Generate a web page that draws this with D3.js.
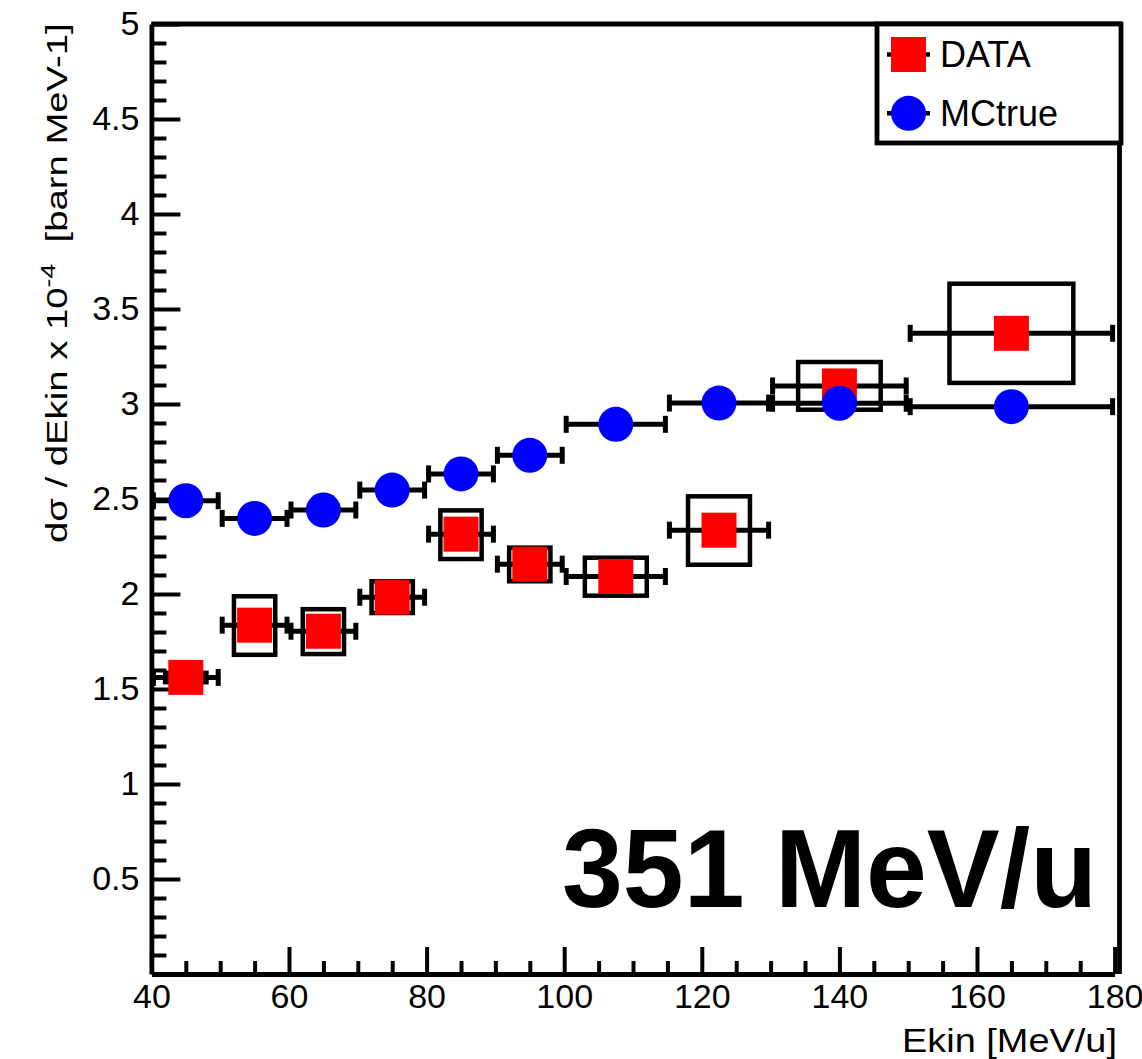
<!DOCTYPE html>
<html>
<head>
<meta charset="utf-8">
<script src="https://cdn.jsdelivr.net/npm/d3@7"></script>
<style>
  html, body { margin: 0; padding: 0; background: #fff; }
  svg { display: block; font-family: "Liberation Sans", Arial, Helvetica, sans-serif; }
</style>
</head>
<body>
<svg id="chart" width="1142" height="1059"></svg>
<script>
// bins in Ekin [MeV/u]
const binLow  = [40, 50, 60, 70, 80, 90, 100, 115, 130, 150];
const binHigh = [50, 60, 70, 80, 90, 100, 115, 130, 150, 180];
const ekin    = [45, 55, 65, 75, 85, 95, 107.5, 122.5, 140, 165];

// DATA points and systematic band
const dataVal = [1.561, 1.836, 1.804, 1.983, 2.315, 2.157, 2.092, 2.336, 3.095, 3.372];
const sysLow  = [1.536, 1.680, 1.684, 1.900, 2.184, 2.067, 1.991, 2.154, 2.970, 3.111];
const sysHigh = [1.585, 1.988, 1.920, 2.067, 2.440, 2.244, 2.191, 2.514, 3.221, 3.633];

// MC truth
const mcVal = [2.491, 2.398, 2.442, 2.547, 2.632, 2.730, 2.893, 3.005, 3.004, 2.986];

// axis ticks
const xMajor = [40, 60, 80, 100, 120, 140, 160, 180];
const xMinor = d3.range(45, 180, 5).filter(v => v % 20 !== 0);
const yMajor = [0.5, 1, 1.5, 2, 2.5, 3, 3.5, 4, 4.5, 5];
const yMinor = d3.range(1, 50).map(v => v / 10).filter(v => Math.round(v * 10) % 5 !== 0);

const svg = d3.select("#chart");
const x = d3.scaleLinear().domain([40, 180]).range([151.4, 1114.6]);
const y = d3.scaleLinear().domain([0, 5]).range([974, 24]);

const LW = 4.8;

// frame top + right
svg.append("path")
  .attr("d", `M${x(40)},${y(5)}H1119.5V${y(0)}`)
  .attr("fill", "none").attr("stroke", "#000").attr("stroke-width", LW);

// minor ticks
svg.append("g")
  .attr("transform", `translate(${x(40)},0)`)
  .call(d3.axisLeft(y).tickValues(yMinor).tickSize(-15).tickFormat(""))
  .call(g => g.select(".domain").remove())
  .call(g => g.selectAll("line").attr("stroke-width", 4));

svg.append("g")
  .attr("transform", `translate(0,${y(0)})`)
  .call(d3.axisBottom(x).tickValues(xMinor).tickSize(-13).tickFormat(""))
  .call(g => g.select(".domain").remove())
  .call(g => g.selectAll("line").attr("stroke-width", 4));

// major ticks + labels
svg.append("g")
  .attr("transform", `translate(${x(40)},0)`)
  .call(d3.axisLeft(y).tickValues(yMajor).tickSizeInner(-29).tickSizeOuter(0).tickPadding(12)
    .tickFormat(d3.format("~g")))
  .call(g => g.select(".domain").attr("stroke-width", LW))
  .call(g => g.selectAll("line").attr("stroke-width", 4))
  .call(g => g.selectAll("text").attr("font-size", 34).attr("fill", "#000").attr("font-family", null));

svg.append("g")
  .attr("transform", `translate(0,${y(0)})`)
  .call(d3.axisBottom(x).tickValues(xMajor).tickSizeInner(-27).tickSizeOuter(0).tickPadding(10)
    .tickFormat(d3.format("d")))
  .call(g => g.select(".domain").attr("stroke-width", LW))
  .call(g => g.selectAll("line").attr("stroke-width", 4))
  .call(g => g.selectAll("text").attr("font-size", 34).attr("fill", "#000").attr("font-family", null));

// axis titles
svg.append("text")
  .attr("x", 1117).attr("y", 1052)
  .attr("text-anchor", "end")
  .attr("font-size", 34)
  .attr("textLength", 215).attr("lengthAdjust", "spacingAndGlyphs")
  .text("Ekin [MeV/u]");

const yTitle = svg.append("g").attr("transform", "translate(67,543) rotate(-90)");
const yText = yTitle.append("text").attr("font-size", 30);
yText.append("tspan").text("dσ / dEkin x 10");
yText.append("tspan").attr("font-size", 21).attr("dy", -12).text("-4");
yText.append("tspan").attr("dy", 12).text("  [barn MeV-1]");
yText.attr("xml:space", "preserve").style("white-space", "pre");
const natural = yText.node().getComputedTextLength();
yText.attr("transform", `scale(${520 / natural},1)`);

// big label
svg.append("text")
  .attr("x", 562).attr("y", 907)
  .attr("font-size", 112).attr("font-weight", "bold")
  .attr("textLength", 535).attr("lengthAdjust", "spacingAndGlyphs")
  .text("351 MeV/u");

const idx = d3.range(ekin.length);
const capH = 17;

function errorBars(vals) {
  const g = svg.append("g").attr("stroke", "#000").attr("stroke-width", 5);
  g.selectAll("line.h").data(idx).join("line").attr("class", "h")
    .attr("x1", i => x(binLow[i])).attr("x2", i => x(binHigh[i]))
    .attr("y1", i => y(vals[i])).attr("y2", i => y(vals[i]));
  g.selectAll("line.cl").data(idx).join("line").attr("class", "cl")
    .attr("x1", i => x(binLow[i]) + 2).attr("x2", i => x(binLow[i]) + 2)
    .attr("y1", i => y(vals[i]) - capH / 2).attr("y2", i => y(vals[i]) + capH / 2);
  g.selectAll("line.cr").data(idx).join("line").attr("class", "cr")
    .attr("x1", i => x(binHigh[i]) - 2).attr("x2", i => x(binHigh[i]) - 2)
    .attr("y1", i => y(vals[i]) - capH / 2).attr("y2", i => y(vals[i]) + capH / 2);
}

// DATA: error bars, systematic boxes, markers
errorBars(dataVal);
svg.append("g").selectAll("rect").data(idx).join("rect")
  .attr("x", i => x(ekin[i] - 0.3 * (binHigh[i] - binLow[i])))
  .attr("width", i => x(ekin[i] + 0.3 * (binHigh[i] - binLow[i])) - x(ekin[i] - 0.3 * (binHigh[i] - binLow[i])))
  .attr("y", i => y(sysHigh[i]))
  .attr("height", i => y(sysLow[i]) - y(sysHigh[i]))
  .attr("fill", "none").attr("stroke", "#000").attr("stroke-width", 4.5);
svg.append("g").selectAll("rect").data(idx).join("rect")
  .attr("x", i => x(ekin[i]) - 17.5).attr("y", i => y(dataVal[i]) - 17.5)
  .attr("width", 35).attr("height", 35)
  .attr("fill", "#ff0000");

// MC truth
errorBars(mcVal);
svg.append("g").selectAll("circle").data(idx).join("circle")
  .attr("cx", i => x(ekin[i])).attr("cy", i => y(mcVal[i]))
  .attr("r", 17.5).attr("fill", "#0000ff");

// legend
const leg = svg.append("g");
leg.append("rect").attr("x", 877).attr("y", 24).attr("width", 244).attr("height", 119)
  .attr("fill", "#fff").attr("stroke", "#000").attr("stroke-width", LW);
const legItems = [
  { label: "DATA", cy: 54.5, shape: "square", color: "#ff0000" },
  { label: "MCtrue", cy: 113.3, shape: "circle", color: "#0000ff" }
];
legItems.forEach(it => {
  leg.append("line").attr("x1", 887).attr("x2", 930).attr("y1", it.cy).attr("y2", it.cy)
    .attr("stroke", "#000").attr("stroke-width", 4.5);
  if (it.shape === "square") {
    leg.append("rect").attr("x", 908.5 - 17.5).attr("y", it.cy - 17.5)
      .attr("width", 35).attr("height", 35).attr("fill", it.color);
  } else {
    leg.append("circle").attr("cx", 908.5).attr("cy", it.cy).attr("r", 17.5).attr("fill", it.color);
  }
  leg.append("text").attr("x", 940).attr("y", it.cy + 12.5)
    .attr("font-size", 36).text(it.label);
});
</script>
</body>
</html>
